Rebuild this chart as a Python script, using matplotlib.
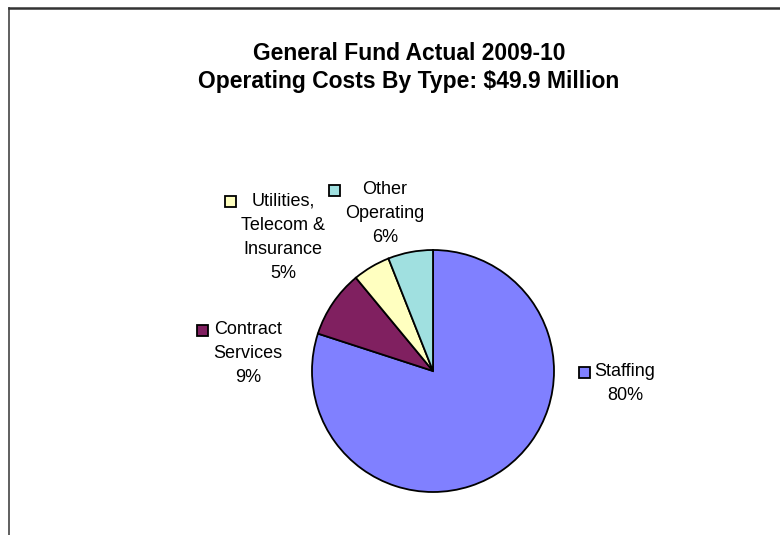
import matplotlib
matplotlib.use("Agg")
import matplotlib.pyplot as plt
from matplotlib.patches import Rectangle
from matplotlib.lines import Line2D

# -------------------- dados
categorias = ["Staffing", "Contract\nServices", "Utilities,\nTelecom &\nInsurance", "Other\nOperating"]
percentuais = [80, 9, 5, 6]
cores = ["#8080FF", "#802060", "#FFFFC0", "#A0E0E0"]
titulo = "General Fund Actual 2009-10\nOperating Costs By Type: $49.9 Million"

# -------------------- layout (pixels, origem no topo)
W, H = 780, 535
DPI = 100
CENTRO = (433, 371)
RAIO = 121
# centro x e y da primeira linha de cada rótulo
POS_ROTULOS = [(625, 372), (248, 330), (283, 201), (385, 190)]
ESPACO_LINHA = 24
FONTE = "Liberation Sans"


def py(v):
    """converte y em pixels (a partir do topo) para coordenada do eixo"""
    return H - v


fig = plt.figure(figsize=(W / DPI, H / DPI), dpi=DPI)
ax = fig.add_axes([0, 0, 1, 1])

# moldura (só esquerda e topo aparecem no recorte)
fig.add_artist(Line2D([9 / W, 9 / W], [0, py(8) / H], color="#444", lw=1.2))
fig.add_artist(Line2D([9 / W, 1], [py(8) / H, py(8) / H], color="#333", lw=1.8))

# pizza: começa no topo e gira no sentido horário
ax.pie(percentuais, colors=cores, startangle=90, counterclock=False,
       center=(CENTRO[0], py(CENTRO[1])), radius=RAIO, frame=True,
       wedgeprops=dict(edgecolor="black", linewidth=1.3))
ax.set_xlim(0, W)
ax.set_ylim(0, H)
ax.set_aspect("equal")
ax.axis("off")

# título
for i, linha in enumerate(titulo.split("\n")):
    ax.text(409, py(60 + i * 28), linha, ha="center", va="baseline",
            fontsize=16.5, fontweight="bold", family=FONTE, color="black")

# rótulos com quadradinho de legenda à esquerda da linha mais larga
fig.canvas.draw()
renderer = fig.canvas.get_renderer()
inv = ax.transData.inverted()
for nome, pct, cor, (cx, cy) in zip(categorias, percentuais, cores, POS_ROTULOS):
    linhas = nome.split("\n") + [f"{pct}%"]
    x_esq = []
    for i, linha in enumerate(linhas):
        t = ax.text(cx, py(cy + i * ESPACO_LINHA), linha, ha="center", va="center",
                    fontsize=13, family=FONTE, color="black")
        bb = t.get_window_extent(renderer)
        x_esq.append(inv.transform((bb.x0, bb.y0))[0])
    lado = 11
    ax.add_patch(Rectangle((min(x_esq) - lado - 5, py(cy) - lado / 2), lado, lado,
                           facecolor=cor, edgecolor="black", lw=1.3))

fig.savefig("out.png", dpi=DPI)
